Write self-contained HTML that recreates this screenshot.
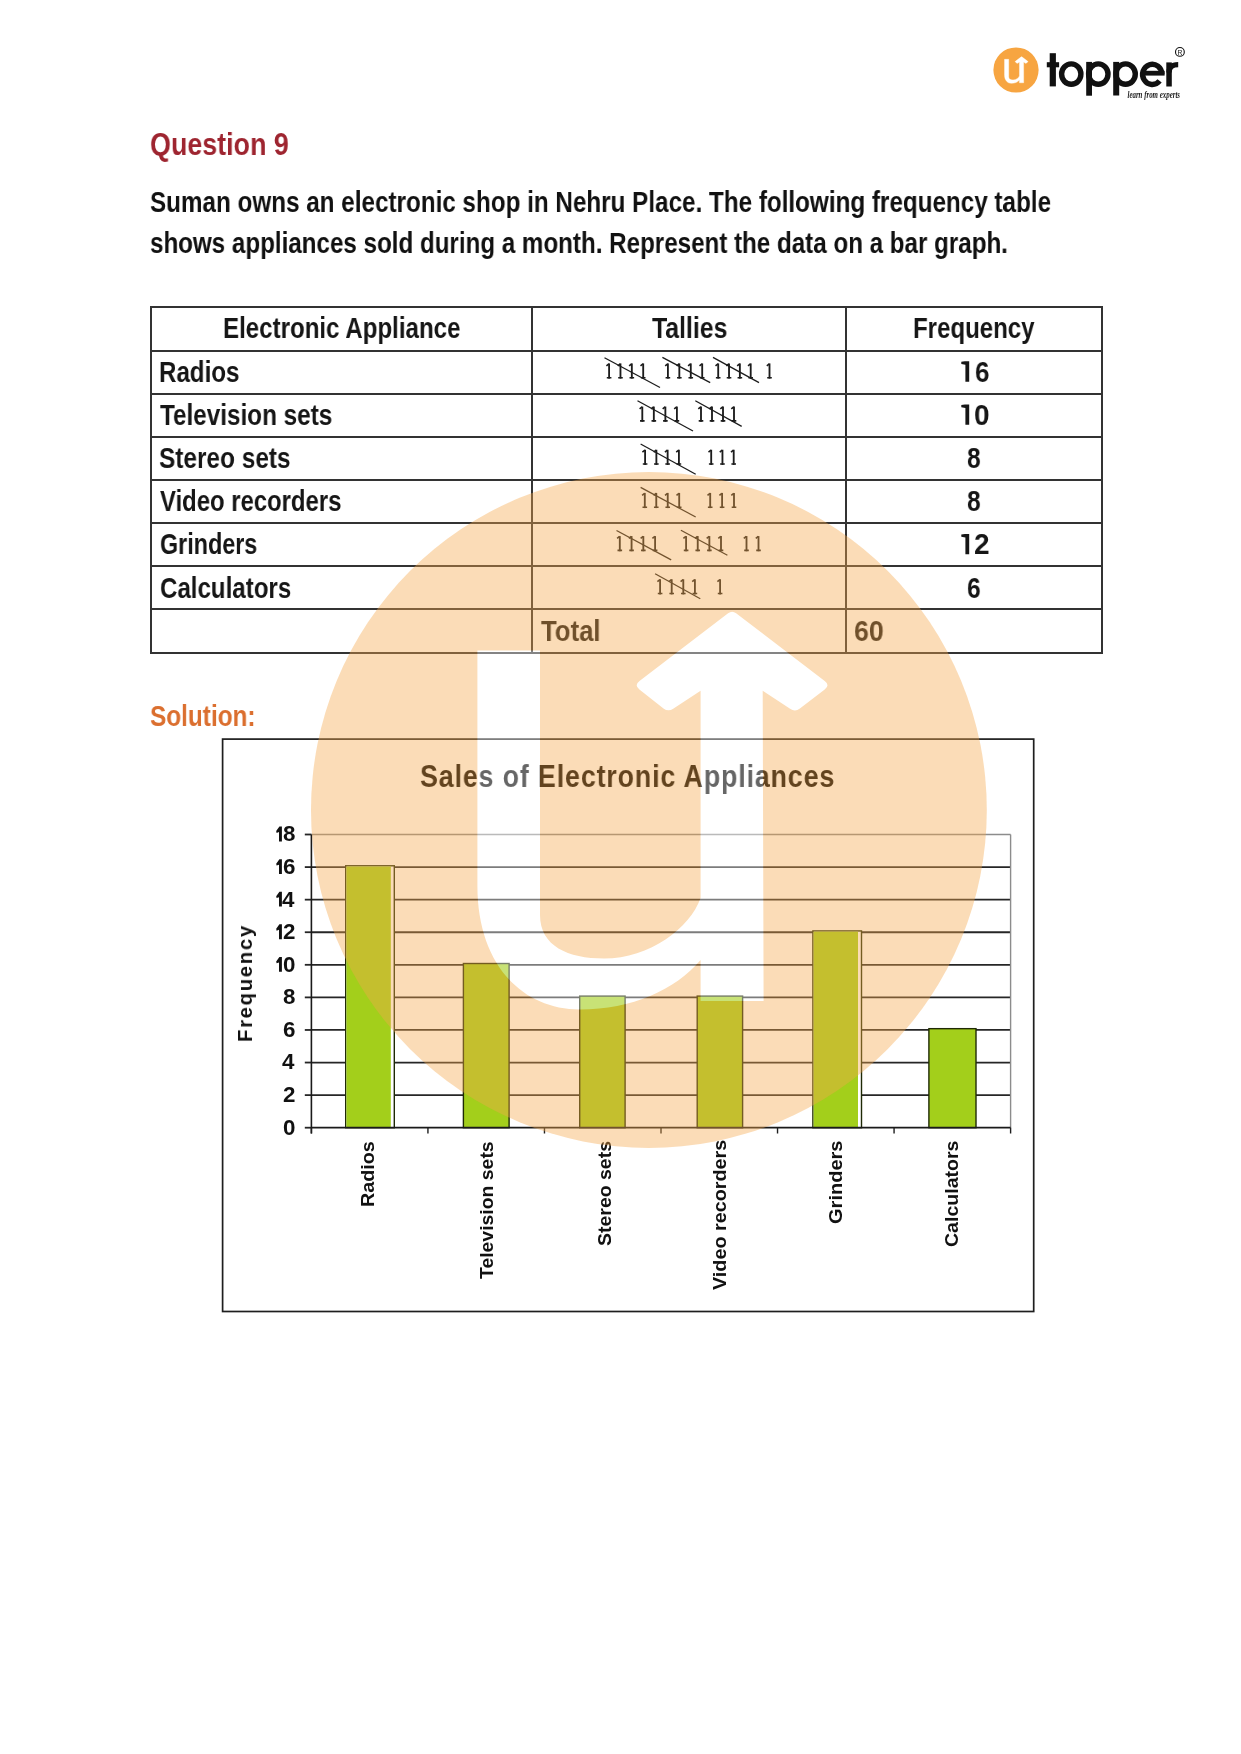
<!DOCTYPE html>
<html lang="en"><head><meta charset="utf-8"><title>Question 9 - Bar Graph</title>
<style>
html,body{margin:0;padding:0;background:#fff}
body{position:relative;width:1241px;height:1754px;overflow:hidden;font-family:"Liberation Sans",sans-serif;color:#161616}
.t{position:absolute;margin:0;white-space:nowrap;line-height:1;transform-origin:0 0;font-family:"Liberation Sans",sans-serif;will-change:transform}
.abs{position:absolute;left:0;top:0}
.cellsvg{position:absolute;overflow:visible}
table.freq{border-collapse:separate;border-spacing:0;table-layout:fixed;position:absolute;left:150px;top:306.4px;margin:0;border-left:2px solid #333;border-top:2px solid #333}
table.freq td,table.freq th{padding:0;border-right:2px solid #333;border-bottom:2px solid #333;height:41.17px;font-weight:bold}
.logo-text{font-weight:bold}
</style></head>
<body>
<svg class="abs" width="1241" height="120" viewBox="0 0 1241 120" aria-label="topper logo" style="will-change:transform">
  <circle cx="1016" cy="70" r="22.6" fill="#f7a541"/>
  <g transform="translate(1016 70) scale(0.06688) translate(-648.9 -810)"><path d="M477.4,650.6 L540.0,650.6 L540.0,915 C540,946 568,958.5 604,958.5 C650,958.5 690,928 700.6,898 L700.6,690.8 L673.2,708.8 Q668.2,712.1 663.5,708.4 L639.4,689.5 Q633.9,685.2 639.5,681.0 L728.1,613.2 Q732.1,610.2 736.1,613.2 L824.7,681.0 Q830.3,685.2 824.7,689.5 L799.9,708.5 Q795.1,712.1 790.1,708.8 L762.7,690.8 L763.6,1001 L700.6,1001 L700.6,960 C675,990 632,1009.5 580,1009.5 C520,1009.5 477.4,962 477.4,886 Z" fill="#fff" stroke="#fff" stroke-width="6"/></g>
  <g fill="#111">
    <rect x="1049.7" y="53.2" width="6.2" height="33.2"/>
    <rect x="1046.8" y="62.2" width="12.3" height="5.1"/>
    <rect x="1086.2" y="61.9" width="5.8" height="33.8"/>
    <rect x="1113.2" y="61.9" width="6.0" height="33.6"/>
    <rect x="1166.3" y="62.4" width="5.5" height="24.1"/>
  </g>
  <g fill="none" stroke="#111">
    <ellipse cx="1071.25" cy="74.1" rx="9.65" ry="10.2" stroke-width="5.4"/>
    <ellipse cx="1098.3" cy="74.1" rx="9.7" ry="10.2" stroke-width="5.4"/>
    <ellipse cx="1125.6" cy="74.1" rx="9.7" ry="10.2" stroke-width="5.4"/>
    <path d="M1161.9,74.2 A9.65,10.1 0 1 0 1159.6,80.9" stroke-width="5.4"/>
    <path d="M1142.2,73.2 H1164.6" stroke-width="4.8"/>
    <path d="M1169.05,72.5 C1169.05,66.5 1172.5,64.6 1178.2,64.6" stroke-width="5.4"/>
    <circle cx="1179.9" cy="51.9" r="4.4" stroke-width="1.1"/>
  </g>
  <text x="1177.4" y="54.6" font-family="Liberation Sans" font-size="6.8" fill="#111">R</text>
  <text x="1127.5" y="97.6" font-family="Liberation Serif" font-style="italic" font-weight="bold" font-size="11" textLength="52.5" lengthAdjust="spacingAndGlyphs" fill="#1a1a1a">learn from experts</text>
</svg>
<h1 class="t" style="left:150.36px;top:127.60px;font-size:32px;font-weight:bold;color:#9e2530;transform:scaleX(0.8393);">Question 9</h1>
<p class="t" style="left:150.46px;top:187.80px;font-size:29px;font-weight:bold;color:#111;transform:scaleX(0.8358);">Suman owns an electronic shop in Nehru Place. The following frequency table</p>
<p class="t" style="left:150.47px;top:229.30px;font-size:29px;font-weight:bold;color:#111;transform:scaleX(0.8332);">shows appliances sold during a month. Represent the data on a bar graph.</p>
<h2 class="t" style="left:150.38px;top:700.70px;font-size:29.6px;font-weight:bold;color:#db6f2f;transform:scaleX(0.8234);">Solution:</h2>
<table class="freq">
<colgroup><col style="width:381px"><col style="width:314px"><col style="width:256.3px"></colgroup>
<tr><th><span class="t tt" style="left:70.79px;top:5.10px;font-size:30px;font-weight:bold;color:#161616;transform:scaleX(0.8031);">Electronic Appliance</span></th><th><span class="t tt" style="left:500.00px;top:5.10px;font-size:30px;font-weight:bold;color:#161616;transform:scaleX(0.8267);">Tallies</span></th><th><span class="t tt" style="left:761.40px;top:5.10px;font-size:30px;font-weight:bold;color:#161616;transform:scaleX(0.8013);">Frequency</span></th></tr>
<tr><td><span class="t tt" style="left:6.69px;top:48.27px;font-size:30px;font-weight:bold;color:#161616;transform:scaleX(0.8041);">Radios</span></td><td><svg class="cellsvg" style="left:-152.0px;top:39.6px" width="1241" height="50" viewBox="0 348 1241 50" aria-label="tally marks"><g stroke="#1c1c1c" fill="none"><path d="M609.10,363.40V378.60" stroke-width="1.85"/><path d="M606.80,377.70H611.40M608.90,363.80L606.40,365.80" stroke-width="1.6"/><path d="M620.47,363.40V378.60" stroke-width="1.85"/><path d="M618.17,377.70H622.77M620.27,363.80L617.77,365.80" stroke-width="1.6"/><path d="M631.83,363.40V378.60" stroke-width="1.85"/><path d="M629.53,377.70H634.13M631.63,363.80L629.13,365.80" stroke-width="1.6"/><path d="M643.20,363.40V378.60" stroke-width="1.85"/><path d="M640.90,377.70H645.50M643.00,363.80L640.50,365.80" stroke-width="1.6"/><line x1="604.5" y1="357.8" x2="660" y2="387.5" stroke-width="1.3"/><path d="M667.90,363.40V378.60" stroke-width="1.85"/><path d="M665.60,377.70H670.20M667.70,363.80L665.20,365.80" stroke-width="1.6"/><path d="M679.33,363.40V378.60" stroke-width="1.85"/><path d="M677.03,377.70H681.63M679.13,363.80L676.63,365.80" stroke-width="1.6"/><path d="M690.77,363.40V378.60" stroke-width="1.85"/><path d="M688.47,377.70H693.07M690.57,363.80L688.07,365.80" stroke-width="1.6"/><path d="M702.20,363.40V378.60" stroke-width="1.85"/><path d="M699.90,377.70H704.50M702.00,363.80L699.50,365.80" stroke-width="1.6"/><line x1="662.4" y1="357.4" x2="710.2" y2="382.6" stroke-width="1.3"/><path d="M718.20,363.40V378.60" stroke-width="1.85"/><path d="M715.90,377.70H720.50M718.00,363.80L715.50,365.80" stroke-width="1.6"/><path d="M729.03,363.40V378.60" stroke-width="1.85"/><path d="M726.73,377.70H731.33M728.83,363.80L726.33,365.80" stroke-width="1.6"/><path d="M739.87,363.40V378.60" stroke-width="1.85"/><path d="M737.57,377.70H742.17M739.67,363.80L737.17,365.80" stroke-width="1.6"/><path d="M750.70,363.40V378.60" stroke-width="1.85"/><path d="M748.40,377.70H753.00M750.50,363.80L748.00,365.80" stroke-width="1.6"/><line x1="713" y1="357.4" x2="759" y2="382.6" stroke-width="1.3"/><path d="M769.50,363.40V378.60" stroke-width="1.85"/><path d="M767.20,377.70H771.80M769.30,363.80L766.80,365.80" stroke-width="1.6"/></g></svg></td><td><svg class="cellsvg" style="left:-152.0px;top:42.6px" width="1241" height="40" viewBox="0 351 1241 40" aria-hidden="true"><path d="M969.20,361.37V381.67H965.40V364.87L961.30,363.97V361.87L964.80,361.37Z" fill="#161616"/></svg><span class="t tt" style="left:822.53px;top:48.27px;font-size:30px;font-weight:bold;color:#161616;transform:scaleX(0.8667);">6</span></td></tr>
<tr><td><span class="t tt" style="left:8.30px;top:91.44px;font-size:30px;font-weight:bold;color:#161616;transform:scaleX(0.8090);">Television sets</span></td><td><svg class="cellsvg" style="left:-152.0px;top:82.6px" width="1241" height="50" viewBox="0 391 1241 50" aria-label="tally marks"><g stroke="#1c1c1c" fill="none"><path d="M642.30,406.57V421.77" stroke-width="1.85"/><path d="M640.00,420.87H644.60M642.10,406.97L639.60,408.97" stroke-width="1.6"/><path d="M653.83,406.57V421.77" stroke-width="1.85"/><path d="M651.53,420.87H656.13M653.63,406.97L651.13,408.97" stroke-width="1.6"/><path d="M665.37,406.57V421.77" stroke-width="1.85"/><path d="M663.07,420.87H667.67M665.17,406.97L662.67,408.97" stroke-width="1.6"/><path d="M676.90,406.57V421.77" stroke-width="1.85"/><path d="M674.60,420.87H679.20M676.70,406.97L674.20,408.97" stroke-width="1.6"/><line x1="637.5" y1="400.8" x2="693" y2="431" stroke-width="1.3"/><path d="M701.00,406.57V421.77" stroke-width="1.85"/><path d="M698.70,420.87H703.30M700.80,406.97L698.30,408.97" stroke-width="1.6"/><path d="M712.00,406.57V421.77" stroke-width="1.85"/><path d="M709.70,420.87H714.30M711.80,406.97L709.30,408.97" stroke-width="1.6"/><path d="M723.00,406.57V421.77" stroke-width="1.85"/><path d="M720.70,420.87H725.30M722.80,406.97L720.30,408.97" stroke-width="1.6"/><path d="M734.00,406.57V421.77" stroke-width="1.85"/><path d="M731.70,420.87H736.30M733.80,406.97L731.30,408.97" stroke-width="1.6"/><line x1="695.3" y1="400.8" x2="741.7" y2="426.4" stroke-width="1.3"/></g></svg></td><td><svg class="cellsvg" style="left:-152.0px;top:85.6px" width="1241" height="40" viewBox="0 394 1241 40" aria-hidden="true"><path d="M969.20,404.54V424.84H965.40V408.04L961.30,407.14V405.04L964.80,404.54Z" fill="#161616"/></svg><span class="t tt" style="left:822.47px;top:91.44px;font-size:30px;font-weight:bold;color:#161616;transform:scaleX(0.9286);">0</span></td></tr>
<tr><td><span class="t tt" style="left:7.49px;top:134.61px;font-size:30px;font-weight:bold;color:#161616;transform:scaleX(0.8132);">Stereo sets</span></td><td><svg class="cellsvg" style="left:-152.0px;top:125.6px" width="1241" height="50" viewBox="0 434 1241 50" aria-label="tally marks"><g stroke="#1c1c1c" fill="none"><path d="M645.10,449.74V464.94" stroke-width="1.85"/><path d="M642.80,464.04H647.40M644.90,450.14L642.40,452.14" stroke-width="1.6"/><path d="M656.37,449.74V464.94" stroke-width="1.85"/><path d="M654.07,464.04H658.67M656.17,450.14L653.67,452.14" stroke-width="1.6"/><path d="M667.63,449.74V464.94" stroke-width="1.85"/><path d="M665.33,464.04H669.93M667.43,450.14L664.93,452.14" stroke-width="1.6"/><path d="M678.90,449.74V464.94" stroke-width="1.85"/><path d="M676.60,464.04H681.20M678.70,450.14L676.20,452.14" stroke-width="1.6"/><line x1="640.6" y1="444" x2="695.7" y2="474.3" stroke-width="1.3"/><path d="M711.20,449.74V464.94" stroke-width="1.85"/><path d="M708.90,464.04H713.50M711.00,450.14L708.50,452.14" stroke-width="1.6"/><path d="M722.45,449.74V464.94" stroke-width="1.85"/><path d="M720.15,464.04H724.75M722.25,450.14L719.75,452.14" stroke-width="1.6"/><path d="M733.70,449.74V464.94" stroke-width="1.85"/><path d="M731.40,464.04H736.00M733.50,450.14L731.00,452.14" stroke-width="1.6"/></g></svg></td><td><span class="t tt" style="left:815.38px;top:134.61px;font-size:30px;font-weight:bold;color:#161616;transform:scaleX(0.8200);">8</span></td></tr>
<tr><td><span class="t tt" style="left:8.30px;top:177.78px;font-size:30px;font-weight:bold;color:#161616;transform:scaleX(0.7960);">Video recorders</span></td><td><svg class="cellsvg" style="left:-152.0px;top:169.6px" width="1241" height="50" viewBox="0 478 1241 50" aria-label="tally marks"><g stroke="#1c1c1c" fill="none"><path d="M644.80,492.91V508.11" stroke-width="1.85"/><path d="M642.50,507.21H647.10M644.60,493.31L642.10,495.31" stroke-width="1.6"/><path d="M656.27,492.91V508.11" stroke-width="1.85"/><path d="M653.97,507.21H658.57M656.07,493.31L653.57,495.31" stroke-width="1.6"/><path d="M667.73,492.91V508.11" stroke-width="1.85"/><path d="M665.43,507.21H670.03M667.53,493.31L665.03,495.31" stroke-width="1.6"/><path d="M679.20,492.91V508.11" stroke-width="1.85"/><path d="M676.90,507.21H681.50M679.00,493.31L676.50,495.31" stroke-width="1.6"/><line x1="640.6" y1="487.4" x2="695.7" y2="517" stroke-width="1.3"/><path d="M710.20,492.91V508.11" stroke-width="1.85"/><path d="M707.90,507.21H712.50M710.00,493.31L707.50,495.31" stroke-width="1.6"/><path d="M722.10,492.91V508.11" stroke-width="1.85"/><path d="M719.80,507.21H724.40M721.90,493.31L719.40,495.31" stroke-width="1.6"/><path d="M734.00,492.91V508.11" stroke-width="1.85"/><path d="M731.70,507.21H736.30M733.80,493.31L731.30,495.31" stroke-width="1.6"/></g></svg></td><td><span class="t tt" style="left:815.38px;top:177.78px;font-size:30px;font-weight:bold;color:#161616;transform:scaleX(0.8200);">8</span></td></tr>
<tr><td><span class="t tt" style="left:7.52px;top:220.95px;font-size:30px;font-weight:bold;color:#161616;transform:scaleX(0.7780);">Grinders</span></td><td><svg class="cellsvg" style="left:-152.0px;top:212.6px" width="1241" height="50" viewBox="0 521 1241 50" aria-label="tally marks"><g stroke="#1c1c1c" fill="none"><path d="M619.80,536.08V551.28" stroke-width="1.85"/><path d="M617.50,550.38H622.10M619.60,536.48L617.10,538.48" stroke-width="1.6"/><path d="M631.57,536.08V551.28" stroke-width="1.85"/><path d="M629.27,550.38H633.87M631.37,536.48L628.87,538.48" stroke-width="1.6"/><path d="M643.33,536.08V551.28" stroke-width="1.85"/><path d="M641.03,550.38H645.63M643.13,536.48L640.63,538.48" stroke-width="1.6"/><path d="M655.10,536.08V551.28" stroke-width="1.85"/><path d="M652.80,550.38H657.40M654.90,536.48L652.40,538.48" stroke-width="1.6"/><line x1="616.5" y1="530.5" x2="671.2" y2="559.9" stroke-width="1.3"/><path d="M686.10,536.08V551.28" stroke-width="1.85"/><path d="M683.80,550.38H688.40M685.90,536.48L683.40,538.48" stroke-width="1.6"/><path d="M697.73,536.08V551.28" stroke-width="1.85"/><path d="M695.43,550.38H700.03M697.53,536.48L695.03,538.48" stroke-width="1.6"/><path d="M709.37,536.08V551.28" stroke-width="1.85"/><path d="M707.07,550.38H711.67M709.17,536.48L706.67,538.48" stroke-width="1.6"/><path d="M721.00,536.08V551.28" stroke-width="1.85"/><path d="M718.70,550.38H723.30M720.80,536.48L718.30,538.48" stroke-width="1.6"/><line x1="680.9" y1="530.2" x2="727.4" y2="555.3" stroke-width="1.3"/><path d="M746.50,536.08V551.28" stroke-width="1.85"/><path d="M744.20,550.38H748.80M746.30,536.48L743.80,538.48" stroke-width="1.6"/><path d="M758.50,536.08V551.28" stroke-width="1.85"/><path d="M756.20,550.38H760.80M758.30,536.48L755.80,538.48" stroke-width="1.6"/></g></svg></td><td><svg class="cellsvg" style="left:-152.0px;top:215.6px" width="1241" height="40" viewBox="0 524 1241 40" aria-hidden="true"><path d="M969.20,534.05V554.35H965.40V537.55L961.30,536.65V534.55L964.80,534.05Z" fill="#161616"/></svg><span class="t tt" style="left:822.47px;top:220.95px;font-size:30px;font-weight:bold;color:#161616;transform:scaleX(0.9286);">2</span></td></tr>
<tr><td><span class="t tt" style="left:7.50px;top:264.12px;font-size:30px;font-weight:bold;color:#161616;transform:scaleX(0.8031);">Calculators</span></td><td><svg class="cellsvg" style="left:-152.0px;top:255.6px" width="1241" height="50" viewBox="0 564 1241 50" aria-label="tally marks"><g stroke="#1c1c1c" fill="none"><path d="M660.10,579.25V594.45" stroke-width="1.85"/><path d="M657.80,593.55H662.40M659.90,579.65L657.40,581.65" stroke-width="1.6"/><path d="M671.70,579.25V594.45" stroke-width="1.85"/><path d="M669.40,593.55H674.00M671.50,579.65L669.00,581.65" stroke-width="1.6"/><path d="M683.30,579.25V594.45" stroke-width="1.85"/><path d="M681.00,593.55H685.60M683.10,579.65L680.60,581.65" stroke-width="1.6"/><path d="M694.90,579.25V594.45" stroke-width="1.85"/><path d="M692.60,593.55H697.20M694.70,579.65L692.20,581.65" stroke-width="1.6"/><line x1="655.1" y1="573.7" x2="700.3" y2="598.7" stroke-width="1.3"/><path d="M720.10,579.25V594.45" stroke-width="1.85"/><path d="M717.80,593.55H722.40M719.90,579.65L717.40,581.65" stroke-width="1.6"/></g></svg></td><td><span class="t tt" style="left:815.38px;top:264.12px;font-size:30px;font-weight:bold;color:#161616;transform:scaleX(0.8200);">6</span></td></tr>
<tr><td><!--C7_0--></td><td><span class="t tt" style="left:388.80px;top:307.29px;font-size:30px;font-weight:bold;color:#161616;transform:scaleX(0.8582);">Total</span></td><td><span class="t tt" style="left:701.91px;top:307.29px;font-size:30px;font-weight:bold;color:#161616;transform:scaleX(0.8903);">60</span></td></tr>
</table>


<svg class="abs" width="1241" height="1754" viewBox="0 0 1241 1754" aria-label="Sales of Electronic Appliances bar chart">
<rect x="222.6" y="739.1" width="811.1" height="572.4" fill="none" stroke="#1e1e1e" stroke-width="1.7"/>
<line x1="311.4" y1="834.50" x2="1010.6" y2="834.50" stroke="#8c8c8c" stroke-width="1.4"/>
<line x1="304.8" y1="834.50" x2="311.4" y2="834.50" stroke="#262626" stroke-width="1.8"/>
<line x1="311.4" y1="867.08" x2="1010.6" y2="867.08" stroke="#262626" stroke-width="1.8"/>
<line x1="304.8" y1="867.08" x2="311.4" y2="867.08" stroke="#262626" stroke-width="1.8"/>
<line x1="311.4" y1="899.66" x2="1010.6" y2="899.66" stroke="#262626" stroke-width="1.8"/>
<line x1="304.8" y1="899.66" x2="311.4" y2="899.66" stroke="#262626" stroke-width="1.8"/>
<line x1="311.4" y1="932.23" x2="1010.6" y2="932.23" stroke="#262626" stroke-width="1.8"/>
<line x1="304.8" y1="932.23" x2="311.4" y2="932.23" stroke="#262626" stroke-width="1.8"/>
<line x1="311.4" y1="964.81" x2="1010.6" y2="964.81" stroke="#262626" stroke-width="1.8"/>
<line x1="304.8" y1="964.81" x2="311.4" y2="964.81" stroke="#262626" stroke-width="1.8"/>
<line x1="311.4" y1="997.39" x2="1010.6" y2="997.39" stroke="#262626" stroke-width="1.8"/>
<line x1="304.8" y1="997.39" x2="311.4" y2="997.39" stroke="#262626" stroke-width="1.8"/>
<line x1="311.4" y1="1029.97" x2="1010.6" y2="1029.97" stroke="#262626" stroke-width="1.8"/>
<line x1="304.8" y1="1029.97" x2="311.4" y2="1029.97" stroke="#262626" stroke-width="1.8"/>
<line x1="311.4" y1="1062.54" x2="1010.6" y2="1062.54" stroke="#262626" stroke-width="1.8"/>
<line x1="304.8" y1="1062.54" x2="311.4" y2="1062.54" stroke="#262626" stroke-width="1.8"/>
<line x1="311.4" y1="1095.12" x2="1010.6" y2="1095.12" stroke="#262626" stroke-width="1.8"/>
<line x1="304.8" y1="1095.12" x2="311.4" y2="1095.12" stroke="#262626" stroke-width="1.8"/>
<line x1="304.8" y1="1127.70" x2="311.4" y2="1127.70" stroke="#262626" stroke-width="1.8"/>
<line x1="1010.6" y1="834.5" x2="1010.6" y2="1127.7" stroke="#8c8c8c" stroke-width="1.4"/>
<rect x="345.70" y="865.78" width="48.60" height="261.92" fill="#fff" stroke="#1f2a05" stroke-width="1.4"/>
<rect x="346.40" y="866.48" width="44.40" height="261.22" fill="#a3cf1b"/>
<rect x="463.40" y="963.51" width="45.70" height="164.19" fill="#a3cf1b" stroke="#1f2a05" stroke-width="1.4"/>
<rect x="579.70" y="996.09" width="45.40" height="131.61" fill="#a3cf1b" stroke="#1f2a05" stroke-width="1.4"/>
<rect x="697.20" y="996.09" width="45.40" height="131.61" fill="#a3cf1b" stroke="#1f2a05" stroke-width="1.4"/>
<rect x="812.90" y="930.93" width="48.60" height="196.77" fill="#fff" stroke="#1f2a05" stroke-width="1.4"/>
<rect x="813.60" y="931.63" width="44.40" height="196.07" fill="#a3cf1b"/>
<rect x="928.90" y="1028.67" width="47.10" height="99.03" fill="#a3cf1b" stroke="#1f2a05" stroke-width="1.4"/>
<line x1="311.4" y1="834.5" x2="311.4" y2="1133.5" stroke="#1a1a1a" stroke-width="1.6"/>
<line x1="311.4" y1="1127.70" x2="1010.6" y2="1127.70" stroke="#1a1a1a" stroke-width="1.8"/>
<line x1="311.40" y1="1127.70" x2="311.40" y2="1133.50" stroke="#1e1e1e" stroke-width="1.4"/>
<line x1="427.93" y1="1127.70" x2="427.93" y2="1133.50" stroke="#1e1e1e" stroke-width="1.4"/>
<line x1="544.47" y1="1127.70" x2="544.47" y2="1133.50" stroke="#1e1e1e" stroke-width="1.4"/>
<line x1="661.00" y1="1127.70" x2="661.00" y2="1133.50" stroke="#1e1e1e" stroke-width="1.4"/>
<line x1="777.53" y1="1127.70" x2="777.53" y2="1133.50" stroke="#1e1e1e" stroke-width="1.4"/>
<line x1="894.07" y1="1127.70" x2="894.07" y2="1133.50" stroke="#1e1e1e" stroke-width="1.4"/>
<line x1="1010.60" y1="1127.70" x2="1010.60" y2="1133.50" stroke="#1e1e1e" stroke-width="1.4"/>
</svg>
<div class="t ctitle" style="left:420.16px;top:760.00px;font-size:32px;font-weight:bold;color:#000;transform:scaleX(0.8391);letter-spacing:1px">Sales of Electronic Appliances</div>
<div class="t" style="left:283.16px;top:824.40px;font-size:21.5px;font-weight:bold;color:#111;transform:scaleX(1.0400)">8</div>
<div class="t" style="left:283.16px;top:856.98px;font-size:21.5px;font-weight:bold;color:#111;transform:scaleX(1.0400)">6</div>
<div class="t" style="left:282.12px;top:889.56px;font-size:21.5px;font-weight:bold;color:#111;transform:scaleX(1.0400)">4</div>
<div class="t" style="left:283.16px;top:922.13px;font-size:21.5px;font-weight:bold;color:#111;transform:scaleX(1.0400)">2</div>
<div class="t" style="left:283.16px;top:954.71px;font-size:21.5px;font-weight:bold;color:#111;transform:scaleX(1.0400)">0</div>
<div class="t" style="left:283.16px;top:987.29px;font-size:21.5px;font-weight:bold;color:#111;transform:scaleX(1.0400)">8</div>
<div class="t" style="left:283.16px;top:1019.87px;font-size:21.5px;font-weight:bold;color:#111;transform:scaleX(1.0400)">6</div>
<div class="t" style="left:282.12px;top:1052.44px;font-size:21.5px;font-weight:bold;color:#111;transform:scaleX(1.0400)">4</div>
<div class="t" style="left:283.16px;top:1085.02px;font-size:21.5px;font-weight:bold;color:#111;transform:scaleX(1.0400)">2</div>
<div class="t" style="left:283.16px;top:1117.60px;font-size:21.5px;font-weight:bold;color:#111;transform:scaleX(1.0400)">0</div>
<div class="t" style="left:374.40px;top:1190.94px;font-size:19px;font-weight:bold;color:#111;transform-origin:0 16.00px;transform:rotate(-90deg) scaleX(1.0393);">Radios</div>
<div class="t" style="left:493.00px;top:1263.30px;font-size:19px;font-weight:bold;color:#111;transform-origin:0 16.00px;transform:rotate(-90deg) scaleX(1.0209);">Television sets</div>
<div class="t" style="left:610.90px;top:1229.83px;font-size:19px;font-weight:bold;color:#111;transform-origin:0 16.00px;transform:rotate(-90deg) scaleX(1.0250);">Stereo sets</div>
<div class="t" style="left:725.60px;top:1274.20px;font-size:19px;font-weight:bold;color:#111;transform-origin:0 16.00px;transform:rotate(-90deg) scaleX(1.0413);">Video recorders</div>
<div class="t" style="left:841.70px;top:1207.55px;font-size:19px;font-weight:bold;color:#111;transform-origin:0 16.00px;transform:rotate(-90deg) scaleX(1.0545);">Grinders</div>
<div class="t" style="left:958.40px;top:1231.23px;font-size:19px;font-weight:bold;color:#111;transform-origin:0 16.00px;transform:rotate(-90deg) scaleX(1.0284);">Calculators</div>
<div class="t" style="left:251.80px;top:1023.96px;font-size:21px;font-weight:bold;color:#111;transform-origin:0 18.00px;transform:rotate(-90deg) scaleX(0.9630);letter-spacing:1.8px">Frequency</div>
<svg class="abs" width="1241" height="1200" viewBox="0 0 1241 1200" aria-hidden="true"><g fill="#111"><path d="M281.90,826.60V841.40H279.00V832.10L276.60,832.90L276.20,831.10L279.40,826.60Z"/><path d="M281.90,859.18V873.98H279.00V864.68L276.60,865.48L276.20,863.68L279.40,859.18Z"/><path d="M281.90,891.76V906.56H279.00V897.26L276.60,898.06L276.20,896.26L279.40,891.76Z"/><path d="M281.90,924.33V939.13H279.00V929.83L276.60,930.63L276.20,928.83L279.40,924.33Z"/><path d="M281.90,956.91V971.71H279.00V962.41L276.60,963.21L276.20,961.41L279.40,956.91Z"/></g></svg>
<svg class="abs" width="1241" height="1754" viewBox="0 0 1241 1754" style="pointer-events:none" aria-hidden="true">
<g opacity="0.4">
<circle cx="648.9" cy="810" r="337.9" fill="#f5a84b"/>
<path d="M477.4,650.6 L540.0,650.6 L540.0,915 C540,946 568,958.5 604,958.5 C650,958.5 690,928 700.6,898 L700.6,690.8 L673.2,708.8 Q668.2,712.1 663.5,708.4 L639.4,689.5 Q633.9,685.2 639.5,681.0 L728.1,613.2 Q732.1,610.2 736.1,613.2 L824.7,681.0 Q830.3,685.2 824.7,689.5 L799.9,708.5 Q795.1,712.1 790.1,708.8 L762.7,690.8 L763.6,1001 L700.6,1001 L700.6,960 C675,990 632,1009.5 580,1009.5 C520,1009.5 477.4,962 477.4,886 Z" fill="#fff"/>
</g>
</svg>
</body></html>
